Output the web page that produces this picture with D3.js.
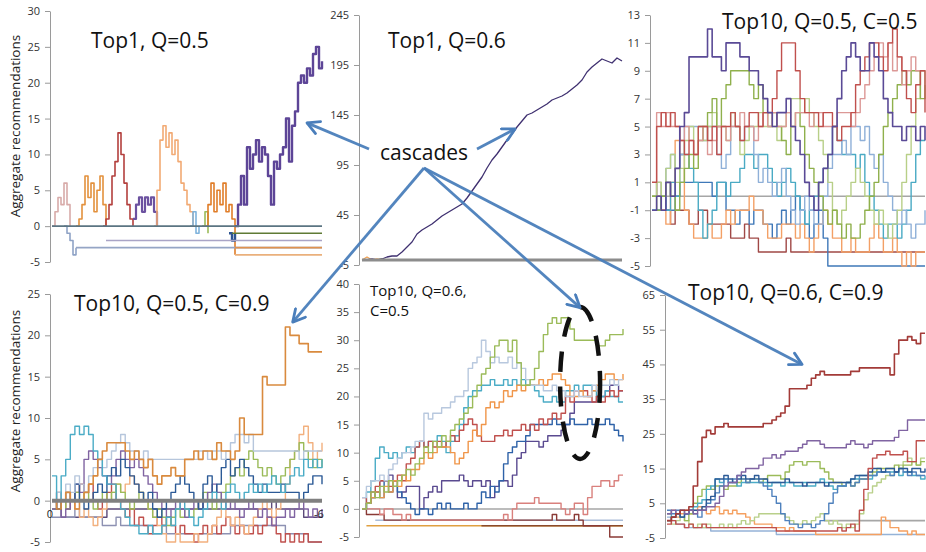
<!DOCTYPE html>
<html><head><meta charset="utf-8">
<script src="https://cdn.jsdelivr.net/npm/d3@7"></script>
<style>
body{margin:0;background:#fff;overflow:hidden}
svg{display:block}
text{font-family:"Open Sans","Liberation Sans",sans-serif}
</style>
</head><body>
<svg id="c" width="926" height="552"></svg>
<script>
// ---------------- DATA ----------------
// Panel 1: Top1, Q=0.5  (x index 0..90)
const p1Ticks = [-5,0,5,10,15,20,25,30];
const p1Pink = [0,2,4,3,6,3,0];
const p1GrayBlue = [0,-1,-2,-4,-3];
const p1Orange = [0,1,3,7,4,6,2,5,7,3,0];
const p1Red = [0,1,3,7,9,13,10,6,3,1,0];
const p1Purple = [1,3,4,2,4,3,4,2,0];
const p1Peach = [0,5,12,14,11,13,10,12,9,6,5,3,2,0];
const p1LightBlue = [0,2,-1,0];
const p1Green = [0,2,-1];
const p1Orange2 = [0,3,6,2,5,3,6,2,3,1,-4];
const p1DarkBlue = [-1,-2,-1];
const p1Purple2 = [0,3,7,3,11,8,10,12,9,11,10,7,3,9,8,10,11,15,9,14,16,20,21,20,22,21,24,25,22,23];
const p1FlatLevel = [0,-1,-2,-3,-3,-4];
const p1FlatFrom  = [0,60,18,8,61,61];

// Panel 2: Top1, Q=0.6 (x index 0..52)
const p2Ticks = [-5,45,95,145,195,245];
const p2Line = [0,0,1,0,1,3,4,4,8,13,18,26,30,33,36,40,44,47,50,53,56,62,69,76,83,92,100,106,113,120,126,133,139,145,147,150,153,156,160,162,164,167,171,175,180,188,193,197,201,199,197,202,199];
const p2Orange = [0,3,0,1,0];
const p2Green = [0,1,0];
const p2FlatLevel = [0];
const p2FlatFrom = [0];

// Panel 3: Top10, Q=0.5, C=0.5 (x index 0..59)
const p3Ticks = [-5,-3,-1,1,3,5,7,9,11,13];
const p3Maroon = [1,0,-1,-1,-2,-1,-1,-1,-2,-2,-1,-1,-2,-2,-2,-2,-2,-3,-3,-3,-2,-3,-3,-4,-4,-4,-4,-4,-4,-3,-4,-4,-4,-4,-4,-4,-4,-4,-4,-4,-4,-4,-4,-4,-4,-4,-4,-4,-4,-4,-4,-4,-4,-4,-4,-4,-4,-4,-4,-4];
const p3Blue = [-1,-1,0,-1,-1,0,1,1,1,1,1,1,1,0,1,1,-1,-1,-2,-1,-1,-2,-1,-1,-2,-2,-3,-2,-1,-2,-1,0,-1,-2,-3,-2,-1,-3,-5,-5,-5,-5,-5,-5,-5,-5,-5,-5,-5,-5,-5,-5,-5,-5,-5,-5,-5,-5,-5,-5];
const p3Orange = [0,1,-1,-2,1,4,3,-1,-2,-3,-3,-3,-2,-3,-3,-2,-1,-2,-1,-1,-1,0,-1,-1,-2,-3,-3,-3,-2,-2,-2,-3,-2,-3,-4,-3,-2,-1,-2,-3,-3,-4,-4,-3,-4,-4,-4,-3,-2,-3,-4,-4,-3,-4,-5,-4,-5,-4,-4,-4];
const p3Teal = [-1,-1,0,-1,1,0,3,3,2,1,-1,-3,-2,-1,1,1,0,1,1,2,3,3,2,3,3,2,1,0,1,2,1,0,-1,-2,-1,0,1,2,3,5,4,3,3,3,2,3,1,0,-1,-2,-3,-2,-2,-3,-2,-1,1,3,4,4];
const p3LBlue = [0,1,0,2,3,2,3,5,5,5,5,4,5,5,3,2,3,5,5,4,5,5,3,1,2,1,0,1,2,0,-1,-2,-1,0,-1,-2,-2,0,2,3,3,4,3,5,5,4,5,3,2,3,1,0,-1,-2,-1,-2,-3,-2,-2,-1];
const p3LGreen = [0,1,0,2,3,1,2,4,5,3,5,4,5,6,5,5,4,6,5,3,4,5,5,6,5,5,5,4,5,6,7,7,6,7,6,5,4,3,1,-1,-2,-1,0,1,2,1,0,-1,-2,-1,-2,-3,-2,-1,1,3,5,7,9,8];
const p3Green = [0,-1,0,1,0,-1,1,2,3,2,4,5,6,7,5,7,8,9,9,9,9,8,7,8,6,5,6,5,4,3,5,6,5,3,2,1,0,-1,-2,-1,-2,-3,-2,-3,-3,-2,-1,0,1,3,5,6,7,8,9,8,9,9,7,8];
const p3Pink = [1,6,5,6,5,5,4,5,4,3,4,5,3,4,5,5,4,5,5,6,5,5,4,5,6,5,6,5,5,6,5,6,6,6,5,6,6,5,5,5,6,6,6,5,6,7,8,9,10,11,10,11,9,10,8,9,10,9,9,9];
const p3Red = [1,5,6,5,6,5,4,3,4,3,5,5,4,5,3,5,5,6,5,4,5,6,6,5,6,6,7,9,11,11,11,9,7,6,6,6,5,6,6,5,4,5,5,6,8,9,10,11,11,10,9,11,12,10,9,7,6,8,9,6];
const p3Purple = [-1,0,-1,1,0,2,5,6,10,10,10,10,12,10,10,9,11,11,11,10,10,9,9,8,7,6,5,6,6,7,5,4,3,1,0,-1,1,2,3,5,7,9,10,11,10,9,9,11,10,9,7,6,5,5,4,5,5,4,5,4];
const p3FlatLevel = [0];
const p3FlatFrom = [0];

// Panel 4: Top10, Q=0.5, C=0.9 (x index 0..59)
const p4Ticks = [-5,0,5,10,15,20,25];
const p4DPurple = [-1,-1,-2,-2,-2,-2,-2,-2,-2,-2,-2,-2,-1,-1,-1,-1,-1,-1,-1,-1,-1,-1,-1,-1,-1,-1,-1,-1,-1,-1,-1,-1,0,-1,-1,-1,-1,-1,-1,-1,-1,-1,-1,-1,-1,-1,-1,-1,0,-1,-1,-1,-1,-1,-1,-2,-2,-2,-2,-2];
const p4Slate = [-2,-2,-2,-2,-2,-1,-2,-2,-2,-2,-2,-3,-3,-3,-2,-3,-3,-3,-3,-3,-3,-3,-4,-4,-3,-4,-4,-4,-4,-4,-4,-4,-4,-4,-4,-4,-4,-4,-4,-3,-3,-3,-3,-3,-3,-3,-3,-3,-3,-3,-3,-4,-4,-4,-4,-4,-5,-5,-5,-5];
const p4Red = [0,1,0,-1,0,1,2,1,2,0,-1,0,1,2,0,-1,-2,-1,-3,-2,-3,-4,-3,-2,-3,-2,-3,-4,-3,-4,-4,-5,-4,-3,-4,-3,-4,-3,-2,-3,-4,-3,-4,-4,-3,-4,-3,-2,-3,-4,-5,-4,-5,-4,-5,-4,-5,-5,-5,-5];
const p4Peach = [0,-1,0,1,0,-1,-2,-1,-2,-3,-2,-1,0,1,2,1,2,3,2,1,0,-1,-2,-3,-4,-5,-5,-4,-5,-5,-5,-4,-5,-5,-4,-3,-2,-1,-2,-3,-2,-3,-4,-3,-2,-1,0,-1,-2,-1,0,2,5,6,8,9,7,5,6,7];
const p4Green = [0,-1,0,-1,0,1,0,1,0,-1,0,1,0,1,2,1,0,-1,0,1,0,-1,-2,-1,-2,-3,-2,-1,-2,-1,-2,-1,0,1,0,-1,0,1,2,3,4,3,5,6,5,4,3,4,3,2,3,4,5,6,7,6,5,4,5,4];
const p4Purple = [0,-1,-2,-1,0,2,1,5,6,5,4,3,2,3,5,6,5,4,5,4,3,2,1,0,-1,-2,-1,0,-1,-2,-1,0,-1,0,1,2,1,0,-1,0,-1,-2,-1,0,-1,-2,-1,-2,-3,-2,-2,-1,-2,-1,0,-1,-2,-1,-2,-1];
const p4Navy = [0,-1,0,1,0,2,0,-1,0,1,2,1,3,4,3,5,4,3,2,1,0,1,-1,-2,-1,0,1,2,3,2,1,0,-1,2,3,1,2,4,5,3,4,5,4,3,2,1,2,1,1,1,2,1,1,1,0,1,2,3,3,2];
const p4LGray = [0,1,0,2,1,3,2,1,3,4,5,4,5,6,7,8,7,6,6,5,6,5,5,5,5,5,5,5,5,5,5,5,6,6,5,6,6,5,6,7,8,8,7,8,6,6,6,6,6,6,6,6,6,6,5,6,6,6,6,6];
const p4Teal = [3,0,3,5,8,9,8,9,8,6,5,3,2,2,0,-1,-2,-3,-3,-4,-4,-3,-4,-4,-3,-2,-3,-1,0,-1,-2,-3,-2,-1,0,1,0,-1,1,2,1,0,1,2,1,2,1,2,3,2,1,2,3,4,3,5,4,5,4,5];
const p4Orange = [0,-1,0,1,0,-1,0,1,2,3,5,6,7,7,7,7,6,5,6,5,4,5,3,2,3,3,4,3,3,5,5,6,5,6,6,5,7,6,6,5,6,10,8,8,8,8,15,14,14,14,14,21,20,20,19,19,18,18,18,18];
const p4FlatLevel = [0];
const p4FlatFrom = [0];
const p4XLabels = ["0","-6"];

// Panel 5: Top10, Q=0.6, C=0.5 (x index 0..59)
const p5Ticks = [-5,0,5,10,15,20,25,30,35,40];
const p5Maroon = [0,-1,-1,-1,-1,-2,-2,-2,-2,-2,-2,-2,-2,-2,-2,-2,-2,-2,-2,-2,-2,-2,-2,-2,-2,-2,-2,-2,-2,-2,-2,-2,-2,-2,-2,-2,-2,-2,-2,-2,-2,-2,-2,-1,-2,-2,-2,-2,-1,-2,-3,-3,-3,-3,-3,-3,-5,-5,-5,-5];
const p5LRed = [0,0,0,0,-1,0,0,-1,-1,-2,-1,-2,-2,-2,-2,-2,-2,-2,-2,-2,-2,-2,-2,-2,-2,-2,-2,-2,-2,-2,-2,-2,-1,-2,0,1,1,1,1,2,1,1,1,1,1,0,-1,0,1,1,-1,2,4,4,5,5,4,5,6,6];
const p5Purple = [0,1,2,3,5,5,6,5,2,3,4,4,4,0,2,3,4,3,5,5,5,5,6,5,4,5,5,4,5,2,4,5,5,4,6,9,10,12,12,12,11,12,13,13,13,14,15,17,19,19,19,19,19,20,20,21,22,22,21,21];
const p5Blue = [0,1,2,3,2,5,3,4,3,2,1,0,-1,0,0,-1,0,1,0,1,0,0,0,1,0,0,1,3,2,4,3,5,8,10,11,12,12,13,15,15,15,15,15,16,15,15,15,16,15,15,15,16,15,15,15,16,15,14,13,12];
const p5Teal = [0,3,5,9,11,10,9,10,9,10,11,10,11,12,11,12,12,13,12,10,12,13,15,18,20,21,21,22,22,23,22,22,23,22,23,22,23,22,22,21,20,19,19,20,19,19,21,21,22,21,22,22,21,20,20,21,20,20,19,19];
const p5Red = [2,1,3,4,5,5,4,5,6,5,8,9,11,12,11,12,11,12,11,12,13,12,14,15,16,15,13,12,12,12,13,13,14,13,14,14,15,14,15,14,16,15,16,17,16,17,20,19,21,21,21,20,19,20,19,20,21,20,21,21];
const p5Orange = [0,1,2,3,2,4,3,5,4,6,5,7,7,8,10,9,10,11,11,11,10,8,9,10,12,14,13,15,18,19,18,19,21,20,21,22,21,22,22,22,23,22,23,24,24,23,22,20,20,21,20,20,21,22,23,24,24,23,23,24];
const p5LGray = [2,4,5,5,6,5,7,8,9,10,10,11,12,12,17,16,17,17,18,18,19,20,20,21,25,26,27,30,28,26,27,26,26,27,25,26,25,23,22,22,22,21,21,22,21,21,20,20,21,20,20,20,22,21,22,22,23,22,23,23];
const p5Green = [0,1,3,2,4,3,5,4,5,6,7,6,8,9,11,10,12,11,13,12,14,15,16,17,18,20,22,24,25,27,29,30,30,28,30,26,22,22,23,25,28,31,33,34,33,34,34,32,30,30,30,30,30,29,29,30,31,31,31,32];
const p5FlatLevel = [0,-3,-3,-2];
const p5FlatFrom  = [0,1,27,3];

// Panel 6: Top10, Q=0.6, C=0.9 (x index 0..59)
const p6Ticks = [-5,5,15,25,35,45,55,65];
const p6LBlue = [1,0,-1,-1,-2,-2,-2,-2,-2,-2,-3,-3,-3,-3,-3,-3,-3,-3,-3,-3,-3,-3,-3,-3,-3,-4,-4,-4,-4,-4,-4,-4,-4,-4,-4,-4,-4,-4,-4,-4,-4,-4,-4,-4,-4,-4,-4,-4,-4,-4,-4,-4,-4,-4,-4,-4,-4,-4,-4,-4];
const p6Orange = [2,3,1,2,3,2,3,4,3,2,3,4,2,3,2,3,2,2,1,0,-1,-1,-1,-1,-2,-2,-2,-3,-2,-3,-3,-3,-3,-3,-4,-4,-4,-4,-4,-4,-4,-4,-4,-4,-4,-4,-4,-4,-4,1,0,-2,-2,-3,-3,-4,-3,-4,-4,-4];
const p6LGreen = [0,-1,0,1,0,-1,-2,-1,-2,-1,-2,-2,-1,-2,-1,-2,-1,0,-1,0,1,2,2,2,2,2,2,1,0,-1,-1,0,-1,0,1,2,0,-1,0,-1,-2,-1,-2,-1,2,6,8,10,11,12,13,13,14,16,17,18,17,16,18,18];
const p6Green = [0,1,2,1,0,2,5,7,9,10,9,10,10,9,10,10,11,12,11,12,12,11,12,13,13,13,12,14,16,17,17,16,17,17,17,15,14,12,11,11,10,11,10,11,12,12,13,14,15,15,15,15,16,15,16,16,17,16,17,17];
const p6Teal = [2,1,2,3,2,3,4,5,6,9,10,12,11,12,11,11,10,11,11,11,11,11,11,10,11,11,10,11,11,10,10,11,10,10,11,12,11,10,9,10,10,11,12,12,13,13,12,13,14,14,14,14,14,13,14,14,13,13,12,13];
const p6Blue = [3,2,3,1,2,3,2,1,3,5,6,8,10,12,11,12,13,12,11,12,12,11,10,9,7,5,2,0,-1,-1,-2,-1,-1,-2,-1,0,2,5,8,10,10,11,10,11,12,12,13,13,14,14,14,13,14,15,14,13,14,13,13,13];
const p6Navy = [0,1,2,1,2,3,3,3,4,6,7,12,12,13,12,11,12,13,12,12,13,12,12,11,11,11,11,12,11,11,11,10,11,11,11,11,10,11,11,11,11,11,12,13,13,13,14,15,15,14,15,15,14,15,15,14,15,15,14,15];
const p6Red2 = [-1,0,-1,-1,-2,-1,-2,-2,-1,-2,-2,-2,-2,-2,-2,-2,-2,-2,-2,-2,-2,-2,-2,-2,-2,-3,-3,-3,-3,-3,-3,-3,-3,-3,-3,-3,-3,-3,-3,-2,-3,-2,-1,-3,3,9,15,18,19,19,20,19,19,19,20,17,17,23,23,23];
const p6Purple = [2,3,2,3,2,3,2,3,3,4,4,5,7,10,11,11,13,14,15,15,15,16,18,18,19,18,19,20,20,20,21,22,23,23,23,22,21,21,21,21,21,22,23,22,22,21,22,23,23,23,23,23,24,26,26,29,29,29,29,29];
const p6Red = [0,1,2,3,3,4,10,17,24,26,25,27,27,28,27,27,27,27,27,27,27,27,28,28,29,30,31,33,38,38,38,38,39,41,42,43,42,42,42,42,42,42,43,43,44,44,44,44,44,44,44,42,48,52,52,53,52,51,54,54];
const p6FlatLevel = [0];
const p6FlatFrom = [36];

// ---------------- LAYOUT / STYLE ----------------
const FONT = '"Open Sans","Liberation Sans",sans-serif';
const step = d3.curveStepAfter;
const panels = [
  { xr:[52,322], xd:[0,90], yr:[262,11], yd:[-5,30], ax:50, ticks:p1Ticks, curve:step, w:1.6,
    title:["Top1, Q=0.5"], tx:91, ty:48, ts:21, ylab:126,
    series:[
      {v:p1Pink,s:0,c:"#d8aba9"},{v:p1GrayBlue,s:4,c:"#8fa3c6"},{v:p1Orange,s:8,c:"#e3913d"},
      {v:p1Red,s:17,c:"#b3403e"},{v:p1Purple,s:27,c:"#6c52a0",w:2.2},{v:p1Peach,s:34,c:"#f2aa74"},
      {v:p1LightBlue,s:46,c:"#7fb3dc"},{v:p1Green,s:50,c:"#9bbb59"},{v:p1Orange2,s:51,c:"#e07d28"},
      {v:p1DarkBlue,s:59,c:"#2d5391",w:2.4},{v:p1Purple2,s:61,c:"#5d4597",w:2.4}],
    flats:p1FlatLevel.map((lv,i)=>({lv, from:p1FlatFrom[i], c:["#5b7482","#5f7a35","#a9a4c6","#95a5c5","#e0924f","#eab07c"][i], w:1.6})) },
  { xr:[362,622], xd:[0,52], yr:[265,15], yd:[-5,245], ax:359, ticks:p2Ticks, curve:d3.curveLinear, w:1.3,
    title:["Top1, Q=0.6"], tx:388, ty:48, ts:21,
    series:[{v:p2Orange,s:0,c:"#f0a050"},{v:p2Green,s:3,c:"#9bbb59"},{v:p2Line,s:0,c:"#3f3070"}],
    flats:p2FlatLevel.map((lv,i)=>({lv, from:p2FlatFrom[i], c:"#8c8c8c", w:3})) },
  { xr:[652,925], xd:[0,59], yr:[266,15], yd:[-5,13], ax:650, ticks:p3Ticks, curve:step, w:1.4,
    title:["Top10, Q=0.5, C=0.5"], tx:722, ty:29, ts:21,
    series:[
      {v:p3Maroon,c:"#a04846"},{v:p3Blue,c:"#3f78b8"},{v:p3Orange,c:"#f3a066"},{v:p3Teal,c:"#4aaac4"},
      {v:p3LBlue,c:"#8fb0d8"},{v:p3LGreen,c:"#b8cf88"},{v:p3Green,c:"#8fb04c"},{v:p3Pink,c:"#dc9896"},
      {v:p3Red,c:"#c0504d"},{v:p3Purple,c:"#5a4a96",w:1.6}],
    flats:p3FlatLevel.map((lv,i)=>({lv, from:p3FlatFrom[i], c:"#a6a6a6", w:1.6})), under:true },
  { xr:[52,322], xd:[0,59], yr:[542,294], yd:[-5,25], ax:50, ticks:p4Ticks, curve:step, w:1.4,
    title:["Top10, Q=0.5, C=0.9"], tx:74, ty:311, ts:21, ylab:401,
    series:[
      {v:p4DPurple,c:"#5b4a7a"},{v:p4Slate,c:"#8d91b2"},{v:p4Red,c:"#c0504d"},{v:p4Peach,c:"#f2b07e"},
      {v:p4Green,c:"#9bbb59"},{v:p4Purple,c:"#8064a2"},{v:p4Navy,c:"#2c5a96"},{v:p4LGray,c:"#b6c6dc"},
      {v:p4Teal,c:"#4bacc6"},{v:p4Orange,c:"#d98a3e",w:1.6}],
    flats:p4FlatLevel.map((lv,i)=>({lv, from:p4FlatFrom[i], c:"#808080", w:4})) },
  { xr:[362,623], xd:[0,59], yr:[537,284], yd:[-5,40], ax:359, ticks:p5Ticks, curve:step, w:1.4,
    title:["Top10, Q=0.6,","C=0.5"], tx:370, ty:296, ts:15, lh:20,
    series:[
      {v:p5Maroon,c:"#8a3a36"},{v:p5LRed,c:"#d9807d"},{v:p5Purple,c:"#5a4a90"},{v:p5Blue,c:"#2e62a8"},
      {v:p5Teal,c:"#4bacc6"},{v:p5Red,c:"#c0504d"},{v:p5Orange,c:"#f0964a"},{v:p5LGray,c:"#b8c8de"},
      {v:p5Green,c:"#9bbb59"}],
    flats:p5FlatLevel.map((lv,i)=>({lv, from:p5FlatFrom[i], c:["#a6a6a6","#e0a040","#8b4a2b","#a9bcd8"][i], w:1.5})), under:true },
  { xr:[667,925], xd:[0,59], yr:[538,295], yd:[-5,65], ax:665, ticks:p6Ticks, curve:step, w:1.4,
    title:["Top10, Q=0.6, C=0.9"], tx:688, ty:300, ts:21,
    series:[
      {v:p6LBlue,c:"#95b3d7"},{v:p6Orange,c:"#f5a060"},{v:p6LGreen,c:"#b9d08a"},{v:p6Green,c:"#9bbb59"},
      {v:p6Teal,c:"#4bacc6"},{v:p6Blue,c:"#4f81bd"},{v:p6Navy,c:"#2c5a96"},{v:p6Red2,c:"#c0504d"},
      {v:p6Purple,c:"#8064a2"},{v:p6Red,c:"#a33b38",w:1.6}],
    flats:p6FlatLevel.map((lv,i)=>({lv, from:p6FlatFrom[i], c:"#a6a6a6", w:1.6})), under:true }
];

// ---------------- DRAW ----------------
const svg = d3.select("#c");
svg.append("rect").attr("width",926).attr("height",552).attr("fill","#fff");

panels.forEach(p=>{
  const x = d3.scaleLinear().domain(p.xd).range(p.xr);
  const y = d3.scaleLinear().domain(p.yd).range(p.yr);
  p.x = x; p.y = y;
  const g = svg.append("g");
  const axis = d3.axisLeft(y).tickValues(p.ticks).tickSize(5).tickPadding(5).tickSizeOuter(0).tickFormat(d=>String(d));
  const ag = g.append("g").attr("transform",`translate(${p.ax},0)`).call(axis);
  ag.attr("font-family",FONT).attr("font-size",11);
  ag.select(".domain").attr("stroke","#9a9a9a");
  ag.selectAll(".tick line").attr("stroke","#9a9a9a");
  ag.selectAll(".tick text").attr("fill","#333");

  const line = d3.line().x(d=>x(d[0])).y(d=>y(d[1])).curve(p.curve);
  const drawFlats = ()=>p.flats.forEach(f=>{
    g.append("path").attr("d",line([[f.from,f.lv],[p.xd[1],f.lv]]))
      .attr("fill","none").attr("stroke",f.c).attr("stroke-width",f.w);
  });
  if(p.under) drawFlats();
  p.series.forEach(s=>{
    const st = s.s||0;
    const pts = s.v.map((v,i)=>[st+i, v]);
    g.append("path").attr("d",line(pts)).attr("fill","none")
      .attr("stroke",s.c).attr("stroke-width",s.w||p.w).attr("stroke-linejoin","round");
  });
  if(!p.under) drawFlats();

  const t = g.append("text").attr("x",p.tx).attr("y",p.ty).attr("font-size",p.ts).attr("fill","#111").attr("font-family",FONT);
  p.title.forEach((s,i)=>t.append("tspan").attr("x",p.tx).attr("dy",i?p.lh:0).text(s));

  if(p.ylab){
    g.append("text").attr("transform",`translate(20,${p.ylab}) rotate(-90)`)
      .attr("text-anchor","middle").attr("font-size",13.5).attr("fill","#222").attr("font-family",FONT)
      .text("Aggregate recommendations");
  }
});

// x labels of panel 4
const P4 = panels[3];
const g4 = svg.append("g").attr("font-family",FONT).attr("font-size",11).attr("fill","#222");
g4.append("text").attr("x",P4.x(0)-2).attr("y",P4.y(-2)+1).attr("text-anchor","middle").text(p4XLabels[0]);
g4.append("text").attr("x",P4.x(59)-3).attr("y",P4.y(-2)+1).attr("text-anchor","middle").text(p4XLabels[1]);

// dashed ellipse (panel 5)
const P5 = panels[4];
svg.append("ellipse").attr("cx",P5.x(49.3)).attr("cy",P5.y(22.4)).attr("rx",20).attr("ry",76)
  .attr("fill","none").attr("stroke","#111").attr("stroke-width",4.5).attr("stroke-dasharray","20,15");

// "cascades" annotation with arrows
const blue = "#4a7ebb";
const defs = svg.append("defs");
defs.append("marker").attr("id","ah").attr("viewBox","0 0 16 16").attr("refX",14).attr("refY",8)
  .attr("markerWidth",16).attr("markerHeight",16).attr("markerUnits","userSpaceOnUse").attr("orient","auto")
  .append("path").attr("d","M2,1.5 L14,8 L2,14.5").attr("fill","none").attr("stroke",blue).attr("stroke-width",2.8)
  .attr("stroke-linecap","round").attr("stroke-linejoin","round");

const targets = [
  {from:[369,149], p:panels[0], i:85, v:14.4},
  {from:[477,149], p:panels[1], i:30.6, v:131},
  {from:[424,168], p:panels[3], i:52.6, v:21.6},
  {from:[424,168], p:panels[4], i:49.3, v:35.8},
  {from:[424,168], p:panels[5], i:30.9, v:45}
];
targets.forEach(a=>{
  svg.append("line").attr("x1",a.from[0]).attr("y1",a.from[1])
    .attr("x2",a.p.x(a.i)).attr("y2",a.p.y(a.v))
    .attr("stroke",blue).attr("stroke-width",2.8).attr("stroke-opacity",0.95)
    .attr("marker-end","url(#ah)");
});
svg.append("text").attr("x",380).attr("y",160).attr("font-size",21).attr("fill","#111")
  .attr("font-family",FONT).text("cascades");
</script>
</body></html>
